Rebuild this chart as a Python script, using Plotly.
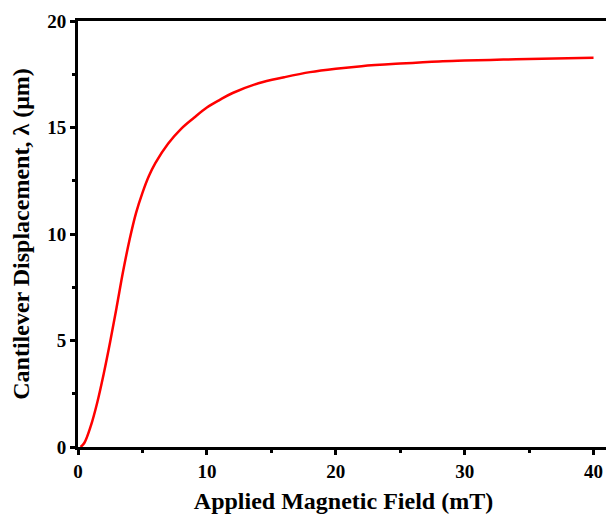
import plotly.graph_objects as go

field_mT = [0.2, 0.5, 1, 1.5, 2, 2.5, 3, 3.5, 4, 4.5, 5, 5.5, 6, 7, 8, 9, 10,
            11, 12, 14, 16, 18, 20, 22, 25, 28, 30, 33, 36, 40]
displacement_um = [0.0, 0.2, 1.0, 2.1, 3.45, 4.95, 6.57, 8.25, 9.73, 10.98,
                   11.93, 12.72, 13.33, 14.25, 14.94, 15.46, 15.94, 16.3, 16.62,
                   17.08, 17.36, 17.6, 17.76, 17.88, 18.0, 18.1, 18.14, 18.19,
                   18.23, 18.27]

x_ticks = [0, 10, 20, 30, 40]
y_ticks = [0, 5, 10, 15, 20]

font_family = "Liberation Serif"

fig = go.Figure()
fig.add_trace(go.Scatter(
    x=field_mT, y=displacement_um, mode="lines",
    line=dict(color="#ff0000", width=2.5, shape="spline", smoothing=1.0),
    showlegend=False,
))

axis_common = dict(
    showgrid=False, zeroline=False, showline=True, linecolor="black",
    linewidth=3, mirror=True, ticks="outside", ticklen=5, tickwidth=3,
    tickcolor="black", automargin=False,
    tickfont=dict(family=font_family, size=19, color="black", weight="bold"),
)

fig.update_xaxes(
    range=[0, 41.2], tickvals=x_ticks, ticktext=[str(v) for v in x_ticks],
    minor=dict(tickvals=[5, 15, 25, 35], ticklen=3, tickwidth=3, ticks="outside", tickcolor="black"),
    title=dict(text="Applied Magnetic Field (mT)", standoff=12,
               font=dict(family=font_family, size=24, color="black", weight="bold")),
    **axis_common,
)
fig.update_yaxes(
    range=[0, 20], tickvals=y_ticks, ticktext=[str(v) for v in y_ticks],
    minor=dict(tickvals=[2.5, 7.5, 12.5, 17.5], ticklen=3, tickwidth=3, ticks="outside", tickcolor="black"),
    title=dict(text="Cantilever Displacement, λ (μm)", standoff=14,
               font=dict(family=font_family, size=24, color="black", weight="bold")),
    **axis_common,
)

# page body has an 8px default margin; size the figure so the plot box lands where the reference has it
fig.update_layout(
    width=606, height=511,
    margin=dict(l=70, r=5, t=13, b=72),
    paper_bgcolor="white", plot_bgcolor="white",
)

fig.write_html("out.html")
